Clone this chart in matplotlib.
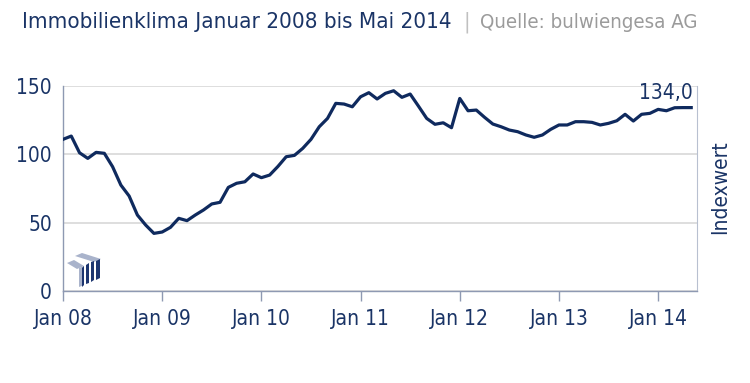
import matplotlib
matplotlib.use("Agg")
import matplotlib.pyplot as plt
from matplotlib.patches import Polygon
from matplotlib import font_manager

# ---- data ----
values = [110.8, 113.2, 101.0, 96.9, 101.3, 100.6, 90.8, 77.4, 69.4, 55.5,
          48.2, 42.1, 43.1, 46.5, 53.1, 51.4, 55.5, 59.2, 63.6, 64.8,
          75.7, 78.7, 79.8, 85.5, 82.8, 84.7, 91.0, 98.1, 99.1, 104.2,
          110.8, 120.0, 126.1, 137.1, 136.6, 134.6, 141.9, 144.9, 140.3, 144.4,
          146.3, 141.5, 143.9, 135.1, 126.1, 121.8, 122.9, 119.3, 140.7, 131.7,
          132.2, 126.9, 122.0, 120.0, 117.6, 116.4, 114.0, 112.3, 114.0, 118.1,
          121.3, 121.3, 123.7, 123.7, 123.2, 121.3, 122.5, 124.4, 129.1, 124.2,
          129.1, 129.8, 132.7, 131.7, 133.9, 134.0, 134.0]
months = list(range(len(values)))  # months since Jan 2008
xtick_pos = [0, 12, 24, 36, 48, 60, 72]
xtick_labels = ["Jan 08", "Jan 09", "Jan 10", "Jan 11", "Jan 12", "Jan 13", "Jan 14"]
yticks = [0, 50, 100, 150]
last_label = "134,0"
title_main = "Immobilienklima Januar 2008 bis Mai 2014"
title_src = "Quelle: bulwiengesa AG"
ylabel = "Indexwert"

# try to find a condensed face among installed families
cond = None
for f in font_manager.fontManager.ttflist:
    st = str(f.stretch).lower()
    if ('condensed' in st or 'narrow' in f.name.lower()
            or (isinstance(f.stretch, int) and f.stretch < 500)) and f.style == 'normal':
        if f.weight in (400, 'normal', 'regular', 'Regular'):
            cond = f
            break
if cond is not None:
    fp = font_manager.FontProperties(fname=cond.fname)
    tsize = 15
    titsize = 16
    srcsize = 14.7
else:
    fp = font_manager.FontProperties(family='Roboto')
    tsize = 13
    titsize = 15
    srcsize = 13.5

navy = "#0f2a5e"
txt = "#1a3466"
gray = "#9b9b9b"
spine_c = "#8e99b2"
grid_c = "#d8d8d8"

fig = plt.figure(figsize=(7.5, 3.83), dpi=100)
ax = fig.add_axes([63/750, 1-291/383, (697-63)/750, (291-85.7)/383])

ax.plot(months, values, color=navy, lw=2.3, solid_joinstyle='round', zorder=3)
ax.set_xlim(0, 76.7)
ax.set_ylim(0, 150)
ax.set_yticks(yticks)
ax.set_xticks(xtick_pos)
ax.set_xticklabels(xtick_labels)
ax.yaxis.grid(True, color=grid_c, lw=1.2)
ax.set_axisbelow(True)
ax.tick_params(axis='y', length=0, pad=8, labelcolor=txt)
ax.tick_params(axis='x', length=7, width=1, color=spine_c, direction='out',
               pad=6, labelcolor=txt)
for lab in ax.get_xticklabels() + ax.get_yticklabels():
    lab.set_fontproperties(fp)
    lab.set_fontsize(tsize)
for s in ['left', 'bottom']:
    ax.spines[s].set_color(spine_c)
    ax.spines[s].set_linewidth(1.0)
ax.spines['right'].set_color("#b8c0d0")
ax.spines['top'].set_visible(False)

ax.text(months[-1] + 0.2, values[-1] + 3, last_label, ha='right', va='bottom',
        fontproperties=fp, fontsize=tsize, color=txt)

t1 = fig.text(22/750, 1-22/383, title_main, ha='left', va='center',
              fontproperties=fp, fontsize=titsize, color=txt)
fig.canvas.draw()
bb = t1.get_window_extent()
fig.text((bb.x1 + 12)/750, 1-22/383, "|", ha='left', va='center',
         fontproperties=fp, fontsize=titsize, color="#c0c0c0")
fig.text((bb.x1 + 28)/750, 1-22/383, title_src, ha='left', va='center',
         fontproperties=fp, fontsize=srcsize, color=gray)
fig.text(720/750, 1-187/383, ylabel, rotation=90, ha='center', va='center',
         fontproperties=fp, fontsize=tsize, color=txt)

# small logo (decoration)
def px(pts):
    return [(x/750, 1-y/383) for x, y in pts]
light = "#a9b3cb"
dark = "#1d3670"
for poly, c in [
    ([(67, 263), (74, 260), (84, 266), (77, 269)], light),
    ([(75, 256), (82, 253), (101, 259), (94, 262)], light),
    ([(79, 268), (84, 266), (84, 285), (79, 287)], light),
    ([(86, 265), (89, 263), (89, 283), (86, 284)], dark),
    ([(91, 262), (94, 261), (94, 280), (91, 282)], dark),
    ([(96, 261), (100, 259), (100, 278), (96, 280)], dark),
    ([(82, 268), (84, 266), (84, 285), (82, 287)], dark),
]:
    fig.patches.append(Polygon(px(poly), closed=True, transform=fig.transFigure,
                               facecolor=c, edgecolor='none'))

fig.savefig("out.png", dpi=100)
